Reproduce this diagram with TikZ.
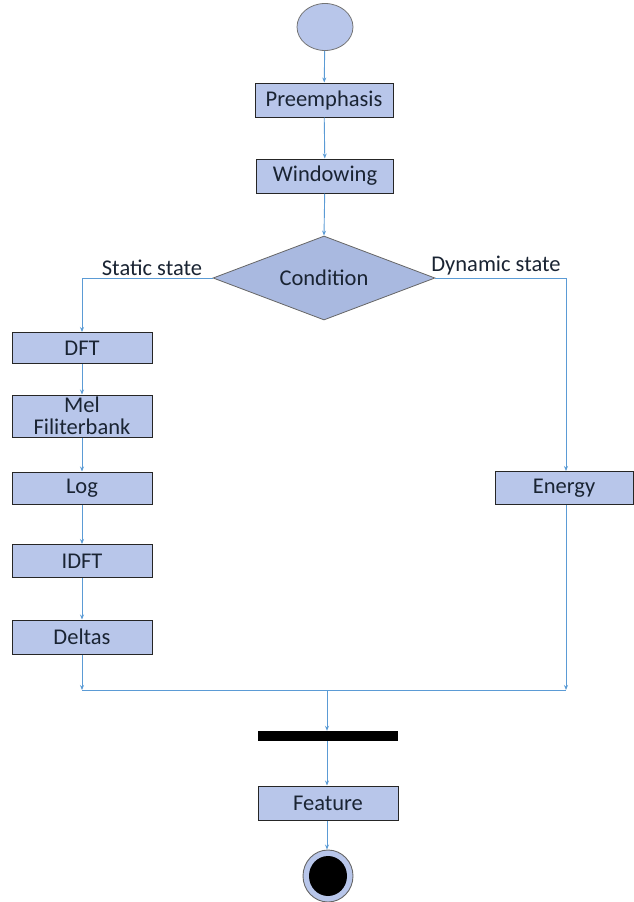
\documentclass[tikz,border=0pt]{standalone}
\usepackage{fontspec}
\setmainfont{Carlito}
\usetikzlibrary{shapes.geometric,arrows.meta}
\definecolor{boxfill}{HTML}{B8C6EA}
\definecolor{dfill}{HTML}{A9B9E0}
\definecolor{linec}{HTML}{5B9BD5}
\definecolor{txt}{HTML}{1A2433}
\tikzset{
  stepbox/.style={draw=black!85, line width=1pt, fill=boxfill, minimum width=140pt, minimum height=33pt, inner sep=0pt, font=\fontsize{22.5}{22}\selectfont, text=txt, align=center},
  conn/.style={draw=linec, line width=0.9pt, -{Stealth[length=5pt,width=4pt]}},
  plain/.style={draw=linec, line width=0.9pt},
  lbl/.style={font=\fontsize{22.5}{22}\selectfont, text=txt, inner sep=0pt}
}
\begin{document}
\begin{tikzpicture}[x=1pt,y=-1pt]
\useasboundingbox (0,0) rectangle (633,902);
\node[ellipse, draw=black!55, line width=0.8pt, fill=boxfill, minimum width=56pt, minimum height=47pt, inner sep=0pt] (start) at (325,27) {};
\node[stepbox, minimum width=138pt, minimum height=34pt] (pre) at (324,100) {Preemphasis};
\node[stepbox, minimum width=137pt, minimum height=34pt] (win) at (325,176) {Windowing};
\node[diamond, draw=black!60, line width=0.8pt, fill=dfill, minimum width=222pt, minimum height=84pt, inner sep=0pt, label={[lbl]center:Condition}] (cond) at (324,278) {};
\node[stepbox, minimum height=31pt] (dft) at (82,348) {DFT};
\node[stepbox, minimum height=42pt] (mel) at (82,416) {Mel\\Filiterbank};
\node[stepbox, minimum height=32pt] (log) at (82,488) {Log};
\node[stepbox, minimum height=33pt] (idft) at (82,561) {IDFT};
\node[stepbox, minimum height=34pt] (deltas) at (82,637) {Deltas};
\node[stepbox, minimum width=138pt, minimum height=33pt] (energy) at (564,488) {Energy};
\node[lbl] (ls) at (152,268) {Static state};
\node[lbl] (ld) at (496,266) {Dynamic state};
\coordinate (jl) at (82,690);
\coordinate (jr) at (566,690);
\coordinate (jm) at (327,690);
\node[fill=black, minimum width=140pt, minimum height=10pt, inner sep=0pt] (bar) at (328,736) {};
\node[stepbox, minimum width=140pt, minimum height=34pt] (feat) at (328,803) {Feature};
\node[ellipse, draw=black!60, line width=0.9pt, fill=boxfill, minimum width=50pt, minimum height=52pt, inner sep=0pt] (endo) at (328,876) {};
\node[ellipse, fill=black, minimum width=38pt, minimum height=40pt, inner sep=0pt] (endi) at (328,876) {};
\draw[conn] (start) -- (pre);
\draw[conn] (pre) -- (win);
\draw[conn] (win) -- (cond.north);
\draw[conn] (cond.west) -| (dft.north);
\draw[conn] (cond.east) -| (energy.north -| 566,0);
\draw[conn] (dft) -- (mel);
\draw[conn] (mel) -- (log);
\draw[conn] (log) -- (idft);
\draw[conn] (idft) -- (deltas);
\draw[conn] (deltas) -- (jl);
\draw[conn] (energy.south -| 566,0) -- (jr);
\draw[plain] (jl) -- (jr);
\draw[conn] (jm) -- (bar.north -| jm);
\draw[conn] (bar.south -| jm) -- (feat.north -| jm);
\draw[conn] (feat.south -| jm) -- (endo.north -| jm);
\end{tikzpicture}
\end{document}
